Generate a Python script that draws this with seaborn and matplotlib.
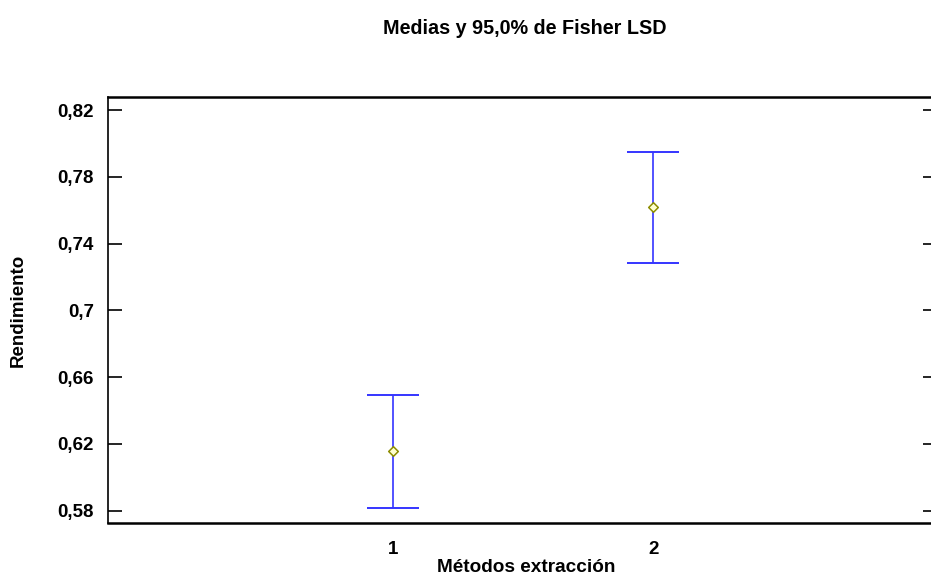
import matplotlib
matplotlib.use("Agg")
import matplotlib.pyplot as plt
import seaborn as sns
import pandas as pd

sns.set_style("white")
plt.rcParams['font.family'] = ['Liberation Sans', 'DejaVu Sans']
plt.rcParams['font.weight'] = 'bold'
plt.rcParams['text.color'] = 'black'
plt.rcParams['xtick.color'] = 'black'
plt.rcParams['ytick.color'] = 'black'

# data
metodos = [1, 2]
medias = [0.6158, 0.7621]
lim_inf = [0.5818, 0.7284]
lim_sup = [0.6493, 0.7950]
y_ticks = [0.58, 0.62, 0.66, 0.70, 0.74, 0.78, 0.82]
y_tick_labels = ['0,58', '0,62', '0,66', '0,7', '0,74', '0,78', '0,82']
x_tick_labels = ['1', '2']

df = pd.DataFrame({'Métodos extracción': metodos, 'Rendimiento': medias,
                   'inf': lim_inf, 'sup': lim_sup})

W, H = 931, 581
fig = plt.figure(figsize=(W / 100, H / 100), dpi=100)
ax = fig.add_axes([108 / W, 1 - 523.3 / H, 829 / W, (523.3 - 96.7) / H])

err = [df['Rendimiento'] - df['inf'], df['sup'] - df['Rendimiento']]
ax.errorbar(df['Métodos extracción'], df['Rendimiento'], yerr=err, fmt='none',
            ecolor='#3535ff', elinewidth=1.2, capsize=18.7, capthick=1.4, zorder=2)
sns.scatterplot(x='Métodos extracción', y='Rendimiento', data=df, ax=ax,
                marker='D', s=24, facecolor='#ffffd0', edgecolor='#8c8c00',
                linewidth=1.1, zorder=3)

ax.set_xlim(-0.096, 3.09)
ax.set_ylim(0.5725, 0.828)
ax.set_xticks(metodos)
ax.set_xticklabels(x_tick_labels)
ax.set_yticks(y_ticks)
ax.set_yticklabels(y_tick_labels)
ax.tick_params(axis='x', length=0, pad=13, labelsize=13.5, labelcolor='black')
ax.tick_params(axis='y', direction='in', length=10, width=1.2, left=True,
               right=True, pad=10, labelsize=13.5, color='black',
               labelcolor='black')
for s in ['left', 'bottom', 'top', 'right']:
    ax.spines[s].set_color('black')
ax.spines['left'].set_linewidth(1.2)
ax.spines['top'].set_linewidth(1.8)
ax.spines['bottom'].set_linewidth(1.8)
ax.set_xlabel('')
ax.set_ylabel('')
ax.grid(False)

fig.text(525 / W, 1 - 28 / H, 'Medias y 95,0% de Fisher LSD', ha='center',
         va='center', fontsize=14.2, fontweight='bold', color='black')
fig.text(526 / W, 1 - 568 / H, 'Métodos extracción', ha='center', va='center',
         fontsize=13.7, fontweight='bold', color='black')
fig.text(18 / W, 1 - 310 / H, 'Rendimiento', ha='center', va='center',
         rotation=90, fontsize=13.5, fontweight='bold', color='black')

fig.savefig('out.png', dpi=100)
